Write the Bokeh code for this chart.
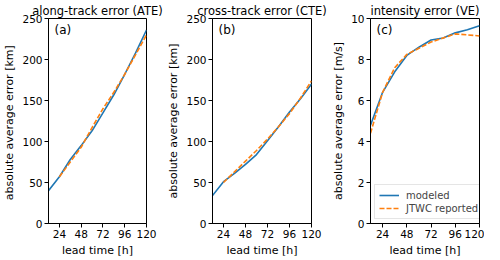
from bokeh.plotting import figure
from bokeh.layouts import row
from bokeh.models import Range1d, FixedTicker, Label, Legend, LegendItem
from bokeh.embed import file_html
from bokeh.resources import INLINE

lead = [12, 24, 36, 48, 60, 72, 84, 96, 108, 120]
lead_jtwc_track = [24, 36, 48, 60, 72, 84, 96, 108, 120]

ate_model = [40, 57, 78, 95, 113, 135, 157, 182, 208, 236]
ate_jtwc = [57, 75, 93, 117, 140, 160, 182, 206, 230]

cte_model = [34, 51, 61, 72, 84, 101, 118, 136, 152, 170]
cte_jtwc = [50, 63, 76, 89, 103, 118, 134, 153, 174]

ve_model = [4.8, 6.4, 7.4, 8.2, 8.6, 8.95, 9.05, 9.3, 9.45, 9.65]
ve_jtwc = [4.4, 6.4, 7.6, 8.25, 8.55, 8.85, 9.05, 9.25, 9.2, 9.15]

x_ticks = [24, 48, 72, 96, 120]
km_ticks = [0, 50, 100, 150, 200, 250]
ms_ticks = [0, 2, 4, 6, 8, 10]

BLUE = "#1f77b4"
ORANGE = "#ff7f0e"
FONT = "DejaVu Sans"
FH = 205


def make_panel(title, letter, ylabel, yend, yticks, xm, ym, xj, yj,
               w, bl, br, legend=False):
    p = figure(width=w, frame_height=FH,
               x_range=Range1d(12, 120), y_range=Range1d(0, yend),
               output_backend="svg", toolbar_location=None,
               min_border_left=bl, min_border_right=br,
               min_border_top=11, min_border_bottom=0)
    p.title.text = title
    p.title.align = "center"
    p.title.text_font = FONT
    p.title.text_font_size = "11.5px"
    p.title.text_font_style = "normal"
    p.title.text_color = "black"
    p.title.standoff = 2
    p.title.offset = 0
    p.grid.visible = False
    p.outline_line_color = "black"
    p.outline_line_alpha = 1
    p.outline_line_width = 1
    p.background_fill_color = "white"
    p.border_fill_color = "white"
    for ax in (p.xaxis[0], p.yaxis[0]):
        ax.axis_line_color = "black"
        ax.major_tick_line_color = "black"
        ax.major_tick_out = 4
        ax.major_tick_in = 0
        ax.minor_tick_line_color = None
        ax.major_label_text_font = FONT
        ax.major_label_text_font_size = "10.5px"
        ax.major_label_text_color = "black"
        ax.axis_label_text_font = FONT
        ax.axis_label_text_font_size = "11px"
        ax.axis_label_text_font_style = "normal"
        ax.axis_label_text_color = "black"
        ax.major_label_standoff = 2
        ax.axis_label_standoff = 3
    p.xaxis.ticker = FixedTicker(ticks=x_ticks)
    p.yaxis.ticker = FixedTicker(ticks=yticks)
    p.xaxis.axis_label = "lead time [h]"
    p.yaxis.axis_label = ylabel

    r1 = p.line(xm, ym, line_color=BLUE, line_width=1.6)
    r2 = p.line(xj, yj, line_color=ORANGE, line_width=1.6, line_dash="5 2")

    p.add_layout(Label(x=6, y=FH - 4, x_units="screen", y_units="screen",
                       text=letter, text_font=FONT, text_font_size="12px",
                       text_baseline="top", text_color="black"))
    if legend:
        leg = Legend(items=[LegendItem(label="modeled", renderers=[r1]),
                            LegendItem(label="JTWC reported", renderers=[r2])],
                     location="bottom_left")
        leg.label_text_font = FONT
        leg.label_text_font_size = "10px"
        leg.label_height = 12
        leg.glyph_height = 12
        leg.glyph_width = 20
        leg.label_standoff = 7
        leg.spacing = 1
        leg.padding = 4
        leg.margin = 4
        leg.border_line_color = "#cccccc"
        leg.border_line_width = 1
        leg.background_fill_alpha = 0.8
        p.add_layout(leg, "center")
    return p


pa = make_panel("along-track error (ATE)", "(a)", "absolute average error  [km]",
                250, km_ticks, lead, ate_model, lead_jtwc_track, ate_jtwc,
                164, 35, 18)
pb = make_panel("cross-track error (CTE)", "(b)", "absolute average error [km]",
                250, km_ticks, lead, cte_model, lead_jtwc_track, cte_jtwc,
                165, 36, 18)
pc = make_panel("intensity error (VE)", "(c)", "absolute average error [m/s]",
                10, ms_ticks, lead, ve_model, lead, ve_jtwc,
                155, 36, 5, legend=True)

layout = row(pa, pb, pc)
open("out.html", "w").write(file_html(layout, INLINE))
